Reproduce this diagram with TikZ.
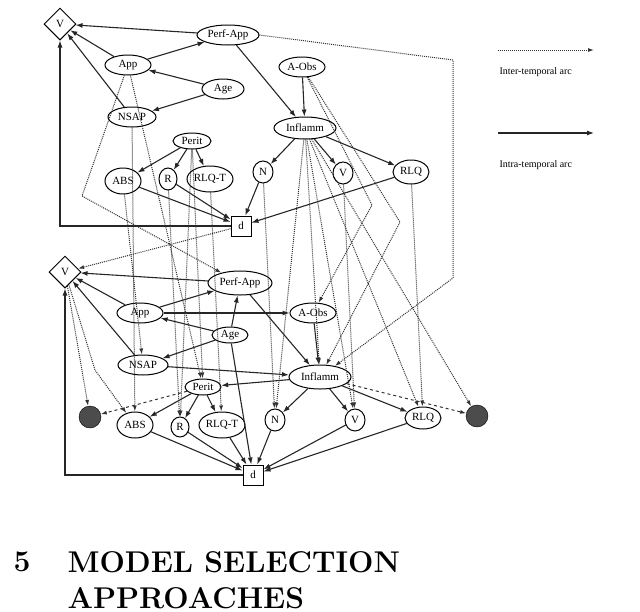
\documentclass[tikz,border=0pt]{standalone}
\usepackage{fontspec}
\newfontfamily\tms{Liberation Serif}
\usetikzlibrary{shapes.geometric,arrows.meta}
\begin{document}
\begin{tikzpicture}[x=1pt,y=-1pt,
 every node/.style={font=\tms\fontsize{11}{12}\selectfont},
 el/.style={ellipse,draw,line width=1pt,inner sep=0pt,minimum height=20pt,minimum width=30pt},
 sq/.style={rectangle,draw,line width=1pt,minimum size=20pt,inner sep=1pt},
 dm/.style={diamond,draw,line width=1pt,inner sep=1pt,minimum size=32pt,aspect=1},
 gc/.style={circle,draw,fill=black!70,minimum size=22pt,inner sep=0pt},
 intra/.style={-{Latex[length=7pt,width=5pt]},line width=1.1pt,black!85},
 inter/.style={-{Latex[length=6pt,width=4pt]},densely dotted,line width=1pt,black!80},
 dsh/.style={-{Latex[length=6pt,width=4pt]},dashed,line width=1pt,black!80}]
\useasboundingbox (0,0) rectangle (640,611);
% ---- top slice
\node[dm] (V1) at (60,24) {V};
\node[el,minimum width=62pt] (PA1) at (228,35) {Perf-App};
\node[el,minimum width=46pt] (App1) at (128,65) {App};
\node[el,minimum width=42pt] (Age1) at (223,89) {Age};
\node[el,minimum width=48pt] (NS1) at (132,117) {NSAP};
\node[el,minimum width=46pt] (AO1) at (302,67) {A-Obs};
\node[el,minimum width=62pt,minimum height=22pt] (In1) at (305,128) {Inflamm};
\node[el,minimum width=38pt,minimum height=16pt] (Pe1) at (192,141) {Perit};
\node[el,minimum width=36pt,minimum height=26pt] (ABS1) at (123,181) {ABS};
\node[el,minimum width=18pt,minimum height=22pt] (R1) at (168,179) {R};
\node[el,minimum width=46pt,minimum height=26pt] (RT1) at (210,179) {RLQ-T};
\node[el,minimum width=20pt,minimum height=22pt] (N1) at (263,172) {N};
\node[el,minimum width=20pt,minimum height=22pt] (Vs1) at (343,173) {V};
\node[el,minimum width=36pt,minimum height=24pt] (RLQ1) at (411,172) {RLQ};
\node[sq] (d1) at (241,226) {d};
% ---- bottom slice
\node[dm] (V2) at (65,272) {V};
\node[el,minimum width=64pt,minimum height=24pt] (PA2) at (240,283) {Perf-App};
\node[el,minimum width=46pt] (App2) at (140,313) {App};
\node[el,minimum width=46pt] (AO2) at (313,313) {A-Obs};
\node[el,minimum width=36pt,minimum height=16pt] (Age2) at (230,335) {Age};
\node[el,minimum width=50pt] (NS2) at (143,365) {NSAP};
\node[el,minimum width=62pt,minimum height=24pt] (In2) at (320,377) {Inflamm};
\node[el,minimum width=36pt,minimum height=16pt] (Pe2) at (203,387) {Perit};
\node[gc] (G1) at (90,417) {};
\node[gc] (G2) at (477,416) {};
\node[el,minimum width=36pt,minimum height=26pt] (ABS2) at (135,425) {ABS};
\node[el,minimum width=18pt,minimum height=20pt] (R2) at (180,427) {R};
\node[el,minimum width=46pt,minimum height=26pt] (RT2) at (222,425) {RLQ-T};
\node[el,minimum width=20pt,minimum height=22pt] (N2) at (275,420) {N};
\node[el,minimum width=20pt,minimum height=22pt] (Vs2) at (355,420) {V};
\node[el,minimum width=36pt,minimum height=22pt] (RLQ2) at (423,418) {RLQ};
\node[sq] (d2) at (253,475) {d};
% ---- intra-temporal top
\draw[intra] (PA1) -- (V1);
\draw[intra] (App1) -- (V1);
\draw[intra] (NS1) -- (V1);
\draw[intra] (d1.west) -- (V1.south |- d1.west) -- (V1.south);
\draw[intra] (App1) -- (PA1);
\draw[intra] (Age1) -- (App1);
\draw[intra] (Age1) -- (NS1);
\draw[intra] (PA1) -- (In1);
\draw[intra] (AO1) -- (In1);
\draw[intra] (In1) -- (N1);
\draw[intra] (In1) -- (Vs1);
\draw[intra] (In1) -- (RLQ1);
\draw[intra] (Pe1) -- (ABS1);
\draw[intra] (Pe1) -- (R1);
\draw[intra] (Pe1) -- (RT1);
\draw[intra] (ABS1) -- (d1);
\draw[intra] (R1) -- (d1);
\draw[intra] (N1) -- (d1);
\draw[intra] (RLQ1) -- (d1);
% ---- intra-temporal bottom
\draw[intra] (PA2) -- (V2);
\draw[intra] (App2) -- (V2);
\draw[intra] (NS2) -- (V2);
\draw[intra] (d2.west) -- (V2.south |- d2.west) -- (V2.south);
\draw[intra] (App2) -- (PA2);
\draw[intra] (App2) -- (AO2);
\draw[intra] (Age2) -- (App2);
\draw[intra] (Age2) -- (NS2);
\draw[intra] (Age2) -- (PA2);
\draw[intra] (Age2) -- (d2);
\draw[intra] (NS2) -- (In2);
\draw[intra] (PA2) -- (In2);
\draw[intra] (AO2) -- (In2);
\draw[intra] (In2) -- (Pe2);
\draw[intra] (In2) -- (N2);
\draw[intra] (In2) -- (Vs2);
\draw[intra] (In2) -- (RLQ2);
\draw[intra] (Pe2) -- (ABS2);
\draw[intra] (Pe2) -- (R2);
\draw[intra] (Pe2) -- (RT2);
\draw[intra] (ABS2) -- (d2);
\draw[intra] (R2) -- (d2);
\draw[intra] (RT2) -- (d2);
\draw[intra] (N2) -- (d2);
\draw[intra] (Vs2) -- (d2);
\draw[intra] (RLQ2) -- (d2);
\draw[dsh] (Pe2) -- (G1);
\draw[dsh] (In2) -- (G2);
% ---- inter-temporal
\coordinate (c1) at (453,60);
\coordinate (c2) at (453,278);
\draw[inter] (PA1.east) -- (c1) -- (c2) -- (In2);
\coordinate (c3) at (82,196);
\draw[inter] (App1) -- (c3) -- (PA2);
\draw[inter] (d1) -- (V2);
\draw[inter] (App1) -- (Pe2);
\coordinate (c4) at (372,205);
\draw[inter] (AO1) -- (c4) -- (AO2);
\coordinate (c5) at (400,222);
\draw[inter] (AO1) -- (c5) -- (In2);
\draw[inter] (ABS1) -- (NS2);
\coordinate (c6) at (95,370);
\draw[inter] (V2) -- (c6) -- (ABS2);
\draw[inter] (V2) -- (G1);
\draw[inter] (Pe1) -- (R2);
\draw[inter] (R1) -- (R2);
\draw[inter] (RT1) -- (RT2);
\draw[inter] (Pe1) -- (Pe2);
\draw[inter] (N1) -- (N2);
\draw[inter] (Vs1) -- (Vs2);
\draw[inter] (RLQ1) -- (RLQ2);
\draw[inter] (In1) -- (N2);
\draw[inter] (In1) -- (In2);
\draw[inter] (In1) -- (RLQ2);
\draw[inter] (In1) -- (G2);
\draw[inter] (In1) -- (Vs2);
\draw[inter] (NS1) -- (ABS2);
% ---- legend
\coordinate (l1) at (498,50); \coordinate (l2) at (594,50);
\draw[inter] (l1) -- (l2);
\node[anchor=west,font=\tms\fontsize{10}{12}\selectfont] (lt1) at (496,72) {Inter-temporal arc};
\coordinate (l3) at (498,133); \coordinate (l4) at (594,133);
\draw[intra] (l3) -- (l4);
\node[anchor=west,font=\tms\fontsize{10}{12}\selectfont] (lt2) at (496,165) {Intra-temporal arc};
% ---- heading
\node[anchor=west,font=\fontsize{30}{34}\selectfont\bfseries] (h5) at (10,562) {5};
\node[anchor=west,font=\fontsize{30}{34}\selectfont\bfseries] (h1) at (64,562) {MODEL SELECTION};
\node[anchor=west,font=\fontsize{30}{34}\selectfont\bfseries] (h2) at (64,598) {APPROACHES};
\end{tikzpicture}
\end{document}
